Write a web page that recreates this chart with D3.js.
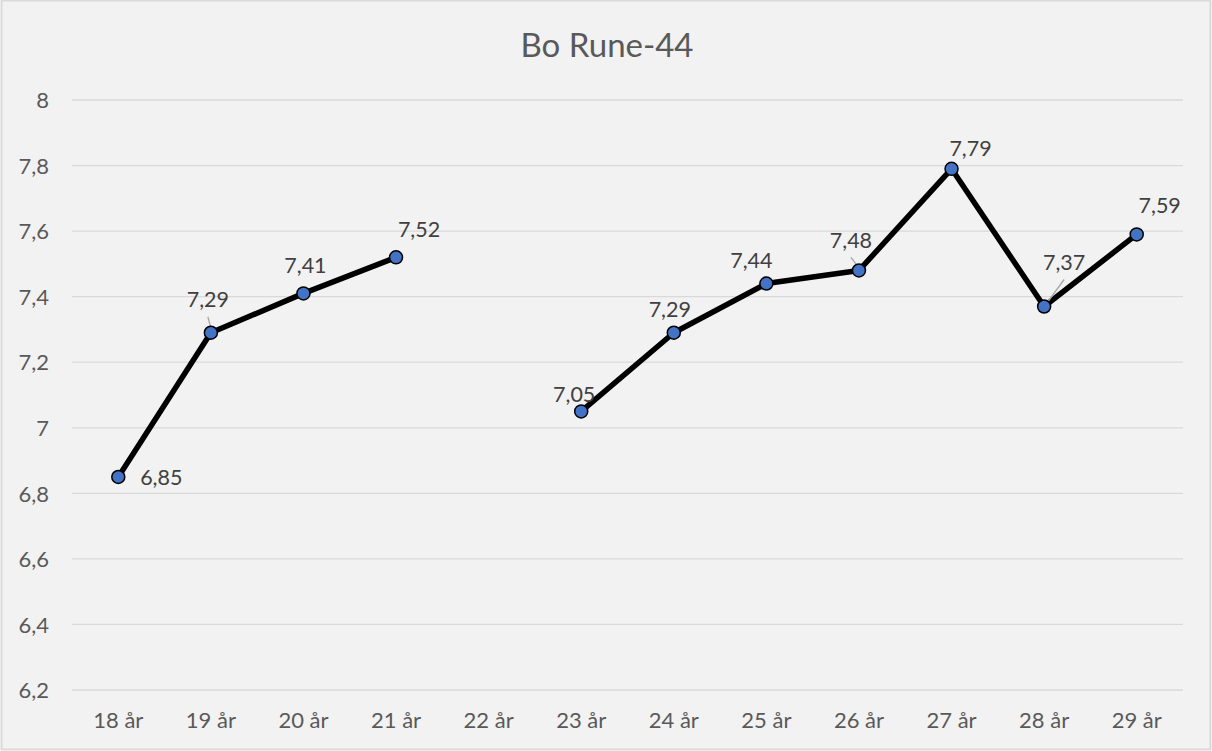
<!DOCTYPE html>
<meta charset="utf-8">
<style>
body { margin: 0; background: #fff; font-family: Lato, "Open Sans", sans-serif; }
.grid line { stroke: #d9d9d9; stroke-width: 1.3; }
.axis path, .axis line { display: none; }
.axis text { fill: #595959; font-size: 22px; font-family: Lato, sans-serif; }
.lbl { fill: #404040; font-size: 21.5px; font-family: Lato, sans-serif; text-anchor: middle; }
</style>
<body>
<script src="https://d3js.org/d3.v7.min.js"></script>
<script>

var categories = ["18 år", "19 år", "20 år", "21 år", "22 år", "23 år", "24 år", "25 år", "26 år", "27 år", "28 år", "29 år"];
var values = [6.85, 7.29, 7.41, 7.52, null, 7.05, 7.29, 7.44, 7.48, 7.79, 7.37, 7.59];
var yTicks = [6.2, 6.4, 6.6, 6.8, 7, 7.2, 7.4, 7.6, 7.8, 8];
var title = "Bo Rune-44";

// hand placed data labels (dx, dy from the point), and leader lines where excel drew them
var labelOffsets = [[43, 1], [-3, -33], [2, -28], [23, -28], null, [-7, -17], [-4, -23], [-15, -23], [-8, -30], [19, -20], [20, -44], [23, -29]];
var leaders = [false, true, false, false, false, false, false, false, true, false, true, false];

var W = 1212, H = 751;
var margin = {top: 100, left: 72};
var width = 1183 - margin.left,
    height = 690 - margin.top;

var svg = d3.select("body").append("svg")
    .attr("width", W)
    .attr("height", H);

svg.append("rect")
    .attr("x", 1.5).attr("y", 0.5)
    .attr("width", W - 3).attr("height", H - 2)
    .attr("fill", "#f2f2f2")
    .attr("stroke", "#d9d9d9")
    .attr("stroke-width", 2);

svg.append("text")
    .attr("x", W / 2 + 1)
    .attr("y", 57)
    .attr("text-anchor", "middle")
    .attr("fill", "#595959")
    .style("font-size", "33px")
    .style("font-family", "Lato, sans-serif")
    .text(title);

var g = svg.append("g")
    .attr("transform", "translate(" + margin.left + "," + margin.top + ")");

var x = d3.scaleBand()
    .domain(categories)
    .range([0, width])
    .padding(0);

var y = d3.scaleLinear()
    .domain([6.2, 8])
    .range([height, 0]);

g.append("g")
    .attr("class", "grid")
    .selectAll("line")
    .data(yTicks)
  .enter().append("line")
    .attr("x1", 0)
    .attr("x2", width)
    .attr("y1", function(d) { return y(d); })
    .attr("y2", function(d) { return y(d); });

var fmt = function(d) { return String(d).replace(".", ","); };

g.append("g")
    .attr("class", "axis")
    .call(d3.axisLeft(y).tickValues(yTicks).tickFormat(fmt).tickSize(0).tickPadding(23))
    .selectAll("text").attr("dy", "0.35em");

g.append("g")
    .attr("class", "axis")
    .attr("transform", "translate(0," + height + ")")
    .call(d3.axisBottom(x).tickSize(0).tickPadding(22));

var cx = function(i) { return x(categories[i]) + x.bandwidth() / 2; };

var line = d3.line()
    .defined(function(d) { return d != null; })
    .x(function(d, i) { return cx(i); })
    .y(function(d) { return y(d); });

g.append("path")
    .datum(values)
    .attr("d", line)
    .attr("fill", "none")
    .attr("stroke", "#000")
    .attr("stroke-width", 5.5)
    .attr("stroke-linejoin", "round");

var pts = values.map(function(v, i) { return {v: v, i: i}; })
    .filter(function(d) { return d.v != null; });

g.selectAll(".leader")
    .data(pts.filter(function(d) { return leaders[d.i]; }))
  .enter().append("line")
    .attr("x1", function(d) { return cx(d.i) + labelOffsets[d.i][0]; })
    .attr("y1", function(d) { return y(d.v) + labelOffsets[d.i][1] + 17; })
    .attr("x2", function(d) { return cx(d.i) + 1; })
    .attr("y2", function(d) { return y(d.v) - 1; })
    .attr("stroke", "#a6a6a6")
    .attr("stroke-width", 1.3);

g.selectAll(".dot")
    .data(pts)
  .enter().append("circle")
    .attr("cx", function(d) { return cx(d.i); })
    .attr("cy", function(d) { return y(d.v); })
    .attr("r", 6.5)
    .attr("fill", "#4472c4")
    .attr("stroke", "#000")
    .attr("stroke-width", 1.5);

g.selectAll(".lbl")
    .data(pts)
  .enter().append("text")
    .attr("class", "lbl")
    .attr("x", function(d) { return cx(d.i) + labelOffsets[d.i][0]; })
    .attr("y", function(d) { return y(d.v) + labelOffsets[d.i][1]; })
    .attr("dy", "0.35em")
    .text(function(d) { return fmt(d.v); });

</script>
</body>
